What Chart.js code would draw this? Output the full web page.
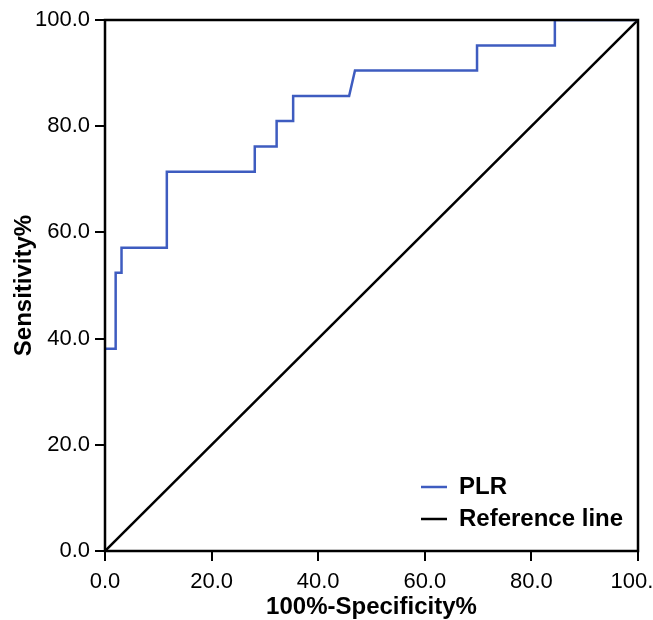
<!DOCTYPE html>
<html>
<head>
<meta charset="utf-8">
<script src="https://cdn.jsdelivr.net/npm/chart.js@4"></script>
<style>
html,body{margin:0;padding:0;background:#fff}
.wrap{width:653px;height:620px;position:relative}
</style>
</head>
<body>
<div class="wrap"><canvas id="roc"></canvas></div>
<script>
// ROC curve: x = 100%-specificity, y = sensitivity
const plrX = [0, 2.0, 2.0, 3.1, 3.1, 11.6, 11.6, 28.1, 28.1, 32.2, 32.2, 35.3, 35.3, 45.8, 46.9, 69.8, 69.8, 84.4, 84.4, 100]
const plrY = [38.1, 38.1, 52.4, 52.4, 57.1, 57.1, 71.4, 71.4, 76.2, 76.2, 81.0, 81.0, 85.7, 85.7, 90.5, 90.5, 95.2, 95.2, 100, 100]
const refX = [0, 100]
const refY = [0, 100]
const seriesNames = ["PLR", "Reference line"]
const xTicks = [0, 20, 40, 60, 80, 100]
const yTicks = [0, 20, 40, 60, 80, 100]
const xTitle = "100%-Specificity%"
const yTitle = "Sensitivity%"

const fam = "'Liberation Sans', Arial, sans-serif"
Chart.defaults.font.family = fam
Chart.defaults.color = "#000"

const toPoints = (xs, ys) => xs.map((x, i) => ({x: x, y: ys[i]}))

function axis(ticks, title, isX){
    return {
        type: 'linear', min: 0, max: 100,
        afterBuildTicks: s => { s.ticks = ticks.map(v => ({value: v})) },
        afterFit: s => {
            if(isX) s.height = 69; else s.width = 105
            s.paddingLeft = s.paddingRight = s.paddingTop = s.paddingBottom = 0
        },
        border: {display: false},
        grid: {drawOnChartArea: false, drawTicks: true, tickLength: 10, color: '#000', lineWidth: 2},
        ticks: {color: '#000', padding: isX ? 8 : 5, maxRotation: 0, autoSkip: false,
            font: {size: 22}, callback: v => Number(v).toFixed(1)},
        title: {display: true, text: title, color: '#000',
            font: {size: 24, weight: 'bold', lineHeight: 1},
            padding: isX ? {top: 0, bottom: 1} : {top: 12, bottom: 0}}
    }
}

//box around the plot
const frame = {
    id: 'frame',
    afterDatasetsDraw(chart){
        const {ctx, chartArea: a} = chart
        ctx.save()
        ctx.strokeStyle = '#000'
        ctx.lineWidth = 2.5
        ctx.strokeRect(a.left, a.top, a.right - a.left, a.bottom - a.top)
        ctx.restore()
    }
}

//legend sits in the lower right corner of the plot
const placeLegend = {
    id: 'placeLegend',
    afterLayout(chart){
        const lg = chart.legend
        lg.left = 413
        lg.right = chart.chartArea.right - 2
        lg.top = 467
        lg.bottom = 547
    }
}

const ctx = document.getElementById('roc').getContext('2d')
new Chart(ctx, {
    type: 'line',
    data: {
        datasets: [{
            label: seriesNames[0],
            data: toPoints(plrX, plrY),
            borderColor: 'rgb(62, 92, 192)',
            backgroundColor: 'rgb(62, 92, 192)',
            borderWidth: 2.5,
            pointRadius: 0,
            tension: 0,
            fill: false
        }, {
            label: seriesNames[1],
            data: toPoints(refX, refY),
            borderColor: '#000',
            backgroundColor: '#000',
            borderWidth: 2.5,
            pointRadius: 0,
            tension: 0,
            fill: false
        }]
    },
    options: {
        responsive: true,
        maintainAspectRatio: false,
        animation: false,
        layout: {padding: {left: 0, top: 20, right: 15, bottom: 0}},
        scales: {
            x: axis(xTicks, xTitle, true),
            y: axis(yTicks, yTitle, false)
        },
        plugins: {
            tooltip: {enabled: false},
            legend: {
                position: 'chartArea',
                align: 'start',
                labels: {
                    usePointStyle: true,
                    pointStyle: 'line',
                    pointStyleWidth: 26,
                    padding: 8,
                    color: '#000',
                    font: {size: 24, weight: 'bold'}
                }
            }
        }
    },
    plugins: [frame, placeLegend]
})
</script>
</body>
</html>
